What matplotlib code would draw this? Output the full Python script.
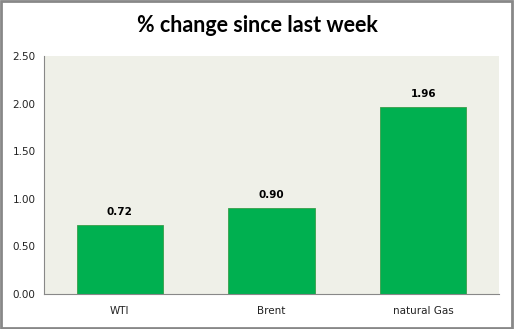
import matplotlib
matplotlib.use("Agg")
import matplotlib.pyplot as plt
from matplotlib.patches import Rectangle

categories = ["WTI", "Brent", "natural Gas"]
values = [0.72, 0.90, 1.96]
yticks = [0.0, 0.5, 1.0, 1.5, 2.0, 2.5]

fig = plt.figure(figsize=(5.14, 3.29), dpi=100)
ax = fig.add_axes([44/514, 35/329, (499-44)/514, (294-56)/329])
ax.set_facecolor("#EFF0E8")
bars = ax.bar(range(len(categories)), values, width=0.57, color="#00B050",
              edgecolor="#3A9E4A", linewidth=0.6, zorder=2)
ax.set_xlim(-0.5, len(categories) - 0.5)
ax.set_ylim(0, 2.5)
ax.set_yticks(yticks)
ax.set_yticklabels([f"{t:.2f}" for t in yticks], fontsize=7.5, family="DejaVu Sans", color="#222222")
ax.set_xticks(range(len(categories)))
ax.set_xticklabels(categories, fontsize=7.5, family="DejaVu Sans", color="#222222")
ax.tick_params(axis="both", length=0, pad=6)
ax.tick_params(axis="x", pad=9)
for s in ["top", "right"]:
    ax.spines[s].set_visible(False)
for s in ["left", "bottom"]:
    ax.spines[s].set_color("#888888")
    ax.spines[s].set_linewidth(0.8)
for i, v in enumerate(values):
    ax.annotate(f"{v:.2f}", (i, v), xytext=(0, 6), textcoords="offset points",
                ha="center", va="bottom", fontsize=7.5, fontweight="bold", family="DejaVu Sans")
fig.text(0.5, 1 - 25/329, "% change since last week", ha="center", va="center",
         fontsize=15.5, fontweight="bold", family="Lato")
fig.patches.append(Rectangle((0.002, 0.003), 0.994, 0.994, transform=fig.transFigure,
                             fill=False, edgecolor="#888888", linewidth=2))
fig.savefig("out.png", dpi=100)
